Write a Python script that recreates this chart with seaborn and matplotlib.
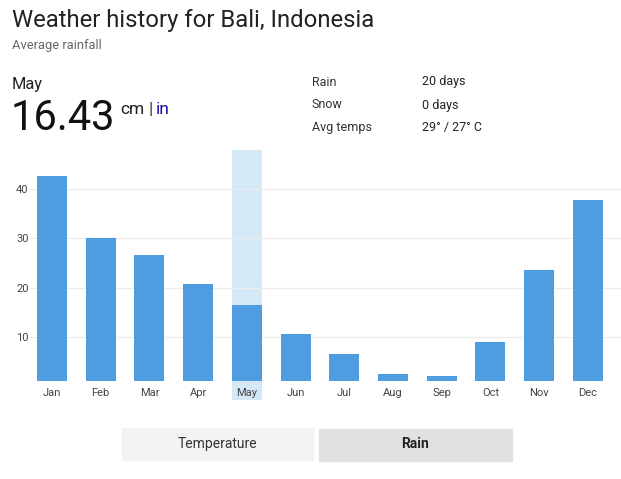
import pandas as pd
import matplotlib.pyplot as plt
import seaborn as sns
from matplotlib.patches import Rectangle

# Monthly average rainfall in cm
months = ["Jan", "Feb", "Mar", "Apr", "May", "Jun", "Jul", "Aug", "Sep", "Oct", "Nov", "Dec"]
rain_cm = [42.6, 30.1, 26.6, 20.7, 16.43, 10.5, 6.5, 2.4, 2.1, 9.0, 23.6, 37.7]
y_ticks = [10, 20, 30, 40]
selected = "May"

info_labels = ["Rain", "Snow", "Avg temps"]
info_values = ["20 days", "0 days", "29° / 27° C"]

data = pd.DataFrame({"month": months, "rain": rain_cm})

sns.set_style("white")
plt.rcParams['font.family'] = ['Roboto', 'DejaVu Sans']

W, H = 621, 479
fig = plt.figure(figsize=(W / 100, H / 100), dpi=100)

# axes placed in pixel terms: x 30..621, y 150..381
ax = fig.add_axes([30 / W, 1 - 381 / H, (621 - 30) / W, (381 - 150) / H])

bar_color = "#4f9de0"
sel = months.index(selected)
ax.axvspan(sel - 0.31, sel + 0.31, ymin=-19 / 231, ymax=1, color="#d5e8f6",
           clip_on=False, zorder=0, lw=0)

sns.barplot(data=data, x="month", y="rain", color=bar_color, width=0.615,
            saturation=1, linewidth=0, ax=ax, zorder=2)

ax.set_xlim(-0.452, 11.68)
ax.set_ylim(1.07, 47.9)
ax.set_yticks(y_ticks)
ax.yaxis.grid(True, color="#ececec", lw=0.9, zorder=1)
ax.set_axisbelow(True)
ax.set_xlabel("")
ax.set_ylabel("")
for s in ax.spines.values():
    s.set_visible(False)
ax.tick_params(axis="both", length=0, labelsize=8, labelcolor="#444444")
ax.tick_params(axis="x", pad=5)
ax.tick_params(axis="y", pad=1)

# header texts
fig.text(12 / W, 1 - 20 / H, "Weather history for Bali, Indonesia", fontsize=17.2,
         color="#222222", va="center")
fig.text(12 / W, 1 - 46 / H, "Average rainfall", fontsize=9.3, color="#666666", va="center")
fig.text(12 / W, 1 - 84 / H, selected, fontsize=11.8, color="#222222", va="center")
fig.text(11 / W, 1 - 118 / H, f"{rain_cm[sel]:.2f}", fontsize=30, color="#111111", va="center")
fig.text(120 / W, 1 - 110 / H, "cm", fontsize=12.5, color="#222222", va="center")
fig.text(148.5 / W, 1 - 110 / H, "|", fontsize=12.5, color="#333333", va="center")
fig.text(156 / W, 1 - 110 / H, "in", fontsize=12.5, color="#1a0dab", va="center")

for i, (lab, val) in enumerate(zip(info_labels, info_values)):
    y = 1 - (82 + 23 * i) / H
    fig.text(312 / W, y, lab, fontsize=9, color="#333333", va="center")
    fig.text(422 / W, y, val, fontsize=9, color="#222222", va="center")

# toggle buttons
fig.patches.append(Rectangle((122 / W, 1 - 460 / H), 191 / W, 32 / H,
                             transform=fig.transFigure, color="#f3f3f3", zorder=0))
fig.patches.append(Rectangle((319 / W, 1 - 461 / H), 193 / W, 32 / H,
                             transform=fig.transFigure, color="#e1e1e1", zorder=0))
fig.text(217 / W, 1 - 444 / H, "Temperature", fontsize=10, color="#333333",
         ha="center", va="center")
fig.text(415 / W, 1 - 444 / H, "Rain", fontsize=10, color="#222222", fontweight="bold",
         ha="center", va="center")

fig.savefig("out.png", dpi=100)
